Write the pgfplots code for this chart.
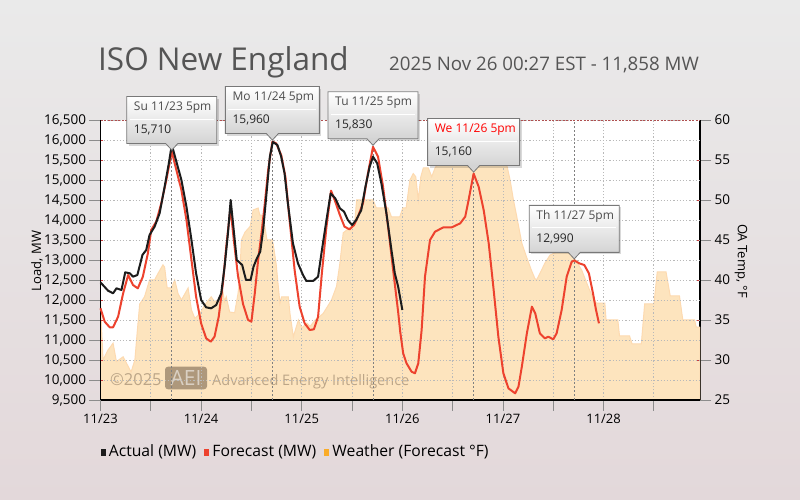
\documentclass[border=0pt]{standalone}
\usepackage{fontspec}
\setmainfont{Open Sans}
\usepackage{pgfplots}
\pgfplotsset{compat=1.18}

\definecolor{bgtop}{RGB}{234,234,234}
\definecolor{bgbot}{RGB}{227,216,218}
\definecolor{actc}{RGB}{28,28,28}
\definecolor{fcc}{RGB}{237,66,46}
\definecolor{wfill}{RGB}{253,228,190}
\definecolor{wedge}{RGB}{253,218,176}
\definecolor{wleg}{RGB}{250,172,40}
\definecolor{gridc}{RGB}{185,185,185}
\definecolor{tickc}{RGB}{140,140,140}
\definecolor{titlec}{RGB}{85,85,85}
\definecolor{calbot}{RGB}{212,212,212}
\definecolor{calbd}{RGB}{120,120,120}
\definecolor{wm}{RGB}{110,90,70}
\definecolor{topc}{RGB}{175,80,80}
\definecolor{redtick}{RGB}{200,60,60}

\newcommand{\fs}[1]{\fontsize{#1}{#1}\selectfont}

\newcommand{\callout}[5]{%
\begin{scope}[shift={(#1)}]
 \fill[black,opacity=0.15] (-#5+2,6) rectangle (#5+2,53);
 \shade[top color=white, bottom color=calbot] (-#5,8) rectangle (#5,55);
 \fill[calbot] (-6,8.5) -- (0,1.5) -- (6,8.5) -- cycle;
 \draw[calbd, line width=0.8pt] (-#5,8) -- (-6,8) -- (0,1.5) -- (6,8) -- (#5,8) -- (#5,55) -- (-#5,55) -- cycle;
 \draw[white, line width=1pt] (-#5+3,32.5) -- (#5-3,32.5);
 \node[anchor=west, inner sep=0, text=#4] at (-#5+7,44.5) {\fs{12}#2};
 \node[anchor=west, inner sep=0, text=black!85] at (-#5+7,21.5) {\fs{12}#3};
\end{scope}}

\begin{document}
\begin{tikzpicture}[x=1pt,y=1pt]
\shade[top color=bgtop, bottom color=bgbot] (0,0) rectangle (800,500);
\useasboundingbox (0,0) rectangle (800,500);
\fill[white] (100.5,100) rectangle (700,380);

% ---------- temperature axis ----------
\begin{axis}[
  at={(100.5pt,100pt)}, anchor=south west, scale only axis,
  width=599.5pt, height=280pt,
  xmin=0, xmax=143, ymin=25, ymax=60,
  axis x line=none, axis y line*=right,
  axis line style={-, black, line width=1.2pt},
  ytick={25,30,...,60},
  tick align=outside, major tick length=11pt,
  tick style={tickc, line width=0.8pt},
  yticklabel style={font=\fs{13.5}, anchor=west, xshift=0pt},
  /pgf/number format/assume math mode=true,
]
\addplot[fill=wfill, draw=wedge, line width=1pt] coordinates {
(0,37.5) (0.25,34) (0.6,30.0) (1.8,31.25) (3.0,32.1) (3.8,29.8) (5.4,30.4) (6.6,29.2)
(7.3,28.5) (8.2,30.0) (8.8,33.75) (9.35,37.0) (10.5,37.9) (11.7,40.0) (12.9,40.0)
(13.7,40.8) (14.9,41.9) (15.3,41.6) (15.9,39.0) (16.9,39.0) (17.7,40.0) (18.5,38.3)
(19.3,37.5) (20.9,39.0) (21.7,36.25) (22.5,35.2) (23.7,35.8) (24.9,36.9) (26.4,37.9)
(27.2,37.3) (28.0,37.5) (29.2,38.5) (29.6,37.3) (30.0,37.9) (30.8,36.0) (32.0,35.9)
(32.8,38.3) (33.2,40.2) (33.6,45.0) (34.5,46.0) (35.7,46.7) (36.4,48.75) (37.6,49.0)
(38.0,48.1) (38.5,48.1) (39.2,46.7) (39.7,45.0) (40.9,45.0) (41.2,44.5) (41.9,42)
(42.8,37.1) (43.2,37.9) (44.8,37.9) (45.2,35.8) (46.0,32.9) (47.2,35.0) (48.0,34.0)
(49.2,34.6) (50.0,34.2) (51.2,35.0) (53.1,35.8) (55.1,37.5) (56.3,39.2) (57.1,42.1)
(57.9,45.9) (60.6,47.0) (61.1,50.0) (65.0,50.0) (65.8,49.0) (68.6,49.0) (69.4,47.9)
(71.4,47.9) (72.1,49.0) (72.9,49.0) (73.8,52.5) (74.6,53.3) (75.2,52.9) (75.8,50.0)
(76.4,52.9) (77.0,54.0) (78.2,54.0) (79.0,52.9) (79.8,54.0) (80.6,54.6) (83.4,56)
(86.9,57) (90.5,57) (94.1,55.5) (95.3,54.4) (96.9,54.4) (97.7,52.5) (98.5,50.0)
(99.3,47.9) (100.5,44.6) (101.6,42.9) (102.8,41.2) (103.6,40.2) (104.0,40.0)
(104.8,40.8) (106.0,42.1) (107.2,43.1) (108.8,43.5) (111.2,43.5) (112.4,43.1)
(113.6,42.3) (114.8,41.2) (116.3,39.2) (117.5,37.7) (118.3,37.1) (120.3,37.1)
(120.6,35.0) (123.4,35.0) (123.8,33.0) (126.2,33.0) (126.8,32.0) (129.0,32.0)
(129.8,37.0) (132.0,37.0) (132.8,41.0) (134.9,41.0) (135.9,38.0) (138.1,38.0)
(138.9,35.0) (141.7,35.0) (142.1,34.1) (143,34.1)
} \closedcycle;
\end{axis}

% ---------- watermark ----------
\node[anchor=base west, inner sep=0, text=wm, text opacity=0.45] at (110,114) {\fs{16.5}©2025};
\fill[wm, opacity=0.55, rounded corners=3pt] (165,110.7) rectangle (207,133.3);
\node[inner sep=0, text=white, text opacity=0.55] at (186,122) {\fs{21}AEI};
\node[anchor=base west, inner sep=0, text=wm, text opacity=0.45] at (212,114) {\fs{14.5}Advanced Energy Intelligence};

% ---------- load axis ----------
\begin{axis}[
  at={(100.5pt,100pt)}, anchor=south west, scale only axis,
  width=599.5pt, height=280pt,
  xmin=0, xmax=143, ymin=9500, ymax=16500,
  clip=false,
  axis x line*=bottom, axis y line*=left,
  axis line style={-, black, line width=1.2pt},
  xtick={0,24,...,120},
  xticklabels={11/23,11/24,11/25,11/26,11/27,11/28},
  minor xtick={12,36,...,132},
  ytick={9500,10000,...,16500},
  scaled y ticks=false,
  tick align=outside, major tick length=11pt, minor tick length=11pt,
  tick style={tickc, line width=0.8pt},
  minor tick style={tickc, line width=0.8pt},
  xmajorgrids, xminorgrids, ymajorgrids,
  grid style={gridc, dash pattern=on 1.2pt off 2pt, line width=0.8pt},
  minor grid style={gridc, dash pattern=on 1.2pt off 2pt, line width=0.8pt},
  xticklabel style={font=\fs{13}},
  yticklabel style={font=\fs{13.5}},
  /pgf/number format/.cd, 1000 sep={,}, assume math mode=true,
]
\pgfplotsinvokeforeach{17,41,65,89,113}{
  \draw[black!50, dash pattern=on 2pt off 2pt, line width=0.8pt] (axis cs:#1,9500) -- (axis cs:#1,16500);
}
\draw[topc, dash pattern=on 2pt off 1.5pt, line width=0.8pt] (axis cs:0,16500) -- (axis cs:143,16500);

\addplot[fcc, line width=2pt, line join=round] coordinates {
(0,11792) (1.0,11458) (2.2,11317) (3.0,11317) (4.2,11583) (5.4,12167) (6.6,12625)
(7.75,12375) (8.9,12292) (10.1,12583) (11.3,13167) (12.1,13750) (13.3,13958)
(14.5,14417) (15.7,15000) (17.0,15710) (18.1,15250) (19.3,14750) (20.5,14000)
(21.7,13000) (22.8,12083) (24.0,11417) (25.2,11042) (26.3,10958) (27.2,11083)
(28.2,11583) (29.2,12417) (30.0,13333) (31.0,14300) (31.8,13500) (32.8,12600)
(34.0,11900) (35.2,11500) (36.0,11458) (36.8,12167) (37.6,13000) (38.4,13667)
(39.2,14417) (40.0,15250) (41.0,15960) (41.9,15917) (43.1,15625) (44.1,15083)
(45.1,14000) (46.3,12750) (47.5,11833) (48.7,11417) (49.9,11250) (50.9,11267)
(51.9,11583) (52.8,12667) (53.9,13833) (55.0,14733) (56.0,14458) (57.1,14125)
(58.2,13833) (59.4,13767) (60.5,13875) (61.4,14083) (62.6,14417) (63.8,15167)
(65.0,15830) (66.2,15583) (67.4,14833) (68.6,13833) (69.8,12750) (71.0,11700)
(71.5,11200) (72.2,10667) (73.0,10417) (74.2,10208) (75.0,10167) (75.8,10417)
(76.6,11250) (77.4,12583) (78.6,13500) (79.8,13708) (81.8,13817) (83.8,13817)
(85.8,13917) (87.0,14083) (87.8,14500) (89.0,15160) (90.2,14833) (91.4,14250)
(92.6,13417) (93.7,12333) (94.9,11083) (96.1,10167) (97.3,9792) (98.9,9667)
(99.7,9833) (100.5,10333) (101.7,11167) (102.9,11833) (103.7,11667) (104.8,11167)
(106.0,11042) (106.8,11083) (108.0,11017) (108.8,11167) (110.0,11750) (111.2,12583)
(112.4,12958) (113.0,12990) (114.2,12917) (115.4,12875) (116.5,12667) (117.5,12150)
(118.2,11750) (118.9,11417)
};
\addplot[actc, line width=2pt, line join=round] coordinates {
(0,12440) (1.8,12233) (3.0,12167) (3.8,12292) (5.0,12250) (5.9,12692) (7.0,12667)
(7.75,12583) (8.8,12625) (10.0,13125) (10.9,13250) (11.7,13625) (12.9,13833)
(14.1,14167) (15.3,14833) (16.3,15417) (17.0,15880) (18.1,15458) (19.3,15000)
(20.5,14333) (21.7,13500) (22.8,12667) (24.0,12000) (25.2,11817) (26.4,11792)
(27.6,11875) (28.8,12167) (29.6,12833) (30.4,13667) (31.05,14500) (32.5,13000)
(33.8,12875) (34.7,12500) (35.8,12500) (36.5,12833) (37.3,13042) (38.1,13208)
(38.8,13750) (39.6,14667) (40.4,15583) (41.1,15950) (42.2,15875) (43.1,15583)
(43.9,15167) (44.7,14417) (45.9,13417) (47.1,12917) (48.3,12625) (49.1,12475)
(50.7,12475) (51.9,12583) (52.7,13167) (53.9,14000) (54.9,14667) (56.0,14542)
(57.1,14292) (58.1,14208) (59.0,14000) (60.0,13875) (61.0,14000) (62.2,14250)
(63.2,14833) (64.2,15333) (65.0,15583) (66.0,15417) (67.0,14917) (68.2,14167)
(69.4,13250) (70.2,12667) (71.0,12333) (72.0,11750)
};
\coordinate (c1) at (axis cs:17,15710);
\coordinate (c2) at (axis cs:41,15960);
\coordinate (c3) at (axis cs:65,15830);
\coordinate (c4) at (axis cs:89,15160);
\coordinate (c5) at (axis cs:113,12990);
\end{axis}

% small red inner ticks
\foreach \k in {1,...,13} \draw[redtick, line width=0.8pt] (101.1,100+20*\k) -- ++(2,0);
\foreach \k in {1,...,6} \draw[redtick, line width=0.8pt] (699.4,100+40*\k) -- ++(-2,0);

% callouts
\callout{c1}{Su 11/23 5pm}{15,710}{black!70}{45}
\callout{c2}{Mo 11/24 5pm}{15,960}{black!70}{47}
\callout{c3}{Tu 11/25 5pm}{15,830}{black!70}{45}
\callout{c4}{We 11/26 5pm}{15,160}{red}{46}
\callout{c5}{Th 11/27 5pm}{12,990}{black!70}{45}

% titles
\node[anchor=base west, inner sep=0, text=titlec] at (98,429) {\fs{31.5}ISO New England};
\node[anchor=base west, inner sep=0, text=titlec] at (389,429) {\fs{18.7}2025 Nov 26 00:27 EST - 11,858 MW};

% axis labels
\node[rotate=90, inner sep=0] at (37,239) {\fs{13}Load, MW};
\node[rotate=-90, inner sep=0] at (741,239) {\fs{13}OA Temp, °F};

% legend
\fill[actc] (100.5,44) rectangle (105.5,50.5);
\node[anchor=base west, inner sep=0] (l1) at (108.7,43.3) {\fs{15.7}Actual (MW)};
\fill[fcc] ([xshift=7.6pt,yshift=0.7pt]l1.base east) rectangle ++(5,6.5);
\node[anchor=base west, inner sep=0] (l2) at ([xshift=15.8pt]l1.base east) {\fs{15.7}Forecast (MW)};
\fill[wleg] ([xshift=7.6pt,yshift=0.7pt]l2.base east) rectangle ++(5,6.5);
\node[anchor=base west, inner sep=0] (l3) at ([xshift=15.8pt]l2.base east) {\fs{15.7}Weather (Forecast °F)};
\end{tikzpicture}
\end{document}
